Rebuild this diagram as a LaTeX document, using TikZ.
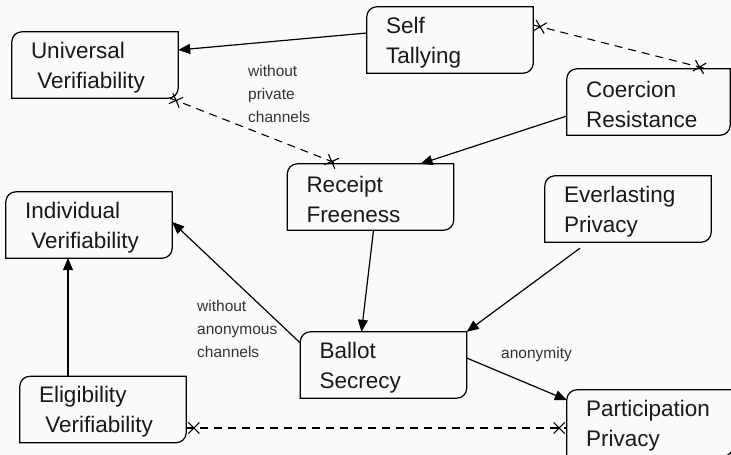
\documentclass[tikz,border=0pt]{standalone}
\usepackage{fontspec}
\setmainfont{Liberation Sans}
\usetikzlibrary{shapes.misc,arrows.meta}
\newcommand{\lsp}{\hspace*{0.28em}}

\begin{document}
\begin{tikzpicture}[x=1pt, y=-1pt]
\tikzstyle{propbox}=[rectangle, text width=128pt, minimum height=66pt, inner xsep=19pt, inner ysep=0pt, align=left, text=black!90, font=\fontsize{22.5}{30}\selectfont, execute at begin node=\strut]
\tikzstyle{drawstyle}=[line width=1.2pt, -{Triangle[length=12pt, width=10pt]}]
\tikzstyle{dashstyle}=[line width=1.1pt, dash pattern=on 8pt off 6pt]
\tikzstyle{xmark}=[cross out, draw, solid, sloped, minimum size=10pt, inner sep=0pt]
\tikzstyle{lbl}=[align=left, inner sep=0pt, anchor=west, text=black!80, font=\fontsize{15.5}{23}\selectfont]

\path[use as bounding box, fill=black!2] (0,0) rectangle (731,455);
\clip (0,0) rectangle (731,455);

\node[propbox] (nUV) at (95,65) {Universal\\\lsp Verifiability};
\node[propbox] (nST) at (450,40) {Self\\Tallying};
\node[propbox, text width=125pt] (nCR) at (648.5,102) {Coercion\\Resistance};
\node[propbox] (nRF) at (370.5,197) {Receipt\\Freeness};
\node[propbox] (nIV) at (89,225) {Individual\\\lsp Verifiability};
\node[propbox] (nEP) at (628,209) {Everlasting\\Privacy};
\node[propbox] (nBS) at (383.5,365) {Ballot\\Secrecy};
\node[propbox] (nEV) at (103,409.5) {Eligibility\\\lsp Verifiability};
\node[propbox] (nPP) at (650,423) {Participation\\Privacy};

% outlines: round top left and bottom right only
\foreach \n in {nUV,nST,nCR,nRF,nIV,nEP,nBS,nEV,nPP}{
  \draw[line width=1.2pt] (\n.south west) -- ([yshift=-10pt]\n.north west)
    arc[start angle=180, end angle=90, radius=10pt] -- (\n.north east)
    -- ([yshift=10pt]\n.south east) arc[start angle=0, end angle=-90, radius=10pt] -- cycle;
}

\draw[drawstyle] ([yshift=7pt]nST.west) -- ([yshift=15pt]nUV.east);
\draw[drawstyle] ([yshift=-14pt]nCR.west) -- ([xshift=50pt]nRF.north);
\draw[drawstyle] ([xshift=3pt]nRF.south) -- ([xshift=-22pt]nBS.north);
\draw[drawstyle] ([xshift=-48pt, yshift=-6pt]nEP.south) -- (nBS.north east);
\draw[drawstyle] ([yshift=22pt]nBS.west) -- ([yshift=3pt]nIV.east);
\draw[drawstyle] ([xshift=-35pt]nEV.north) -- ([xshift=-21pt]nIV.south);
\draw[drawstyle] ([yshift=7pt]nBS.east) -- ([yshift=23pt]nPP.west);

\draw[dashstyle] ([xshift=-8pt]nUV.south east) -- ([xshift=-33pt]nRF.north)
  node[xmark, pos=0.035] {} node[xmark, pos=0.965] {};
\draw[dashstyle] ([yshift=15pt]nST.east) -- ([xshift=58pt]nCR.north)
  node[xmark, pos=0.04] {} node[xmark, pos=0.96] {};
\draw[dashstyle] ([yshift=-18.5pt]nEV.east) -- ([yshift=-5pt]nPP.west)
  node[xmark, pos=0.02] {} node[xmark, pos=0.98] {};

\node[lbl] (lPriv) at (248,94) {without\\private\\channels};
\node[lbl] (lAnon) at (197,328.5) {without\\anonymous\\channels};
\node[lbl] (lAnym) at (501,354) {anonymity};
\end{tikzpicture}
\end{document}
